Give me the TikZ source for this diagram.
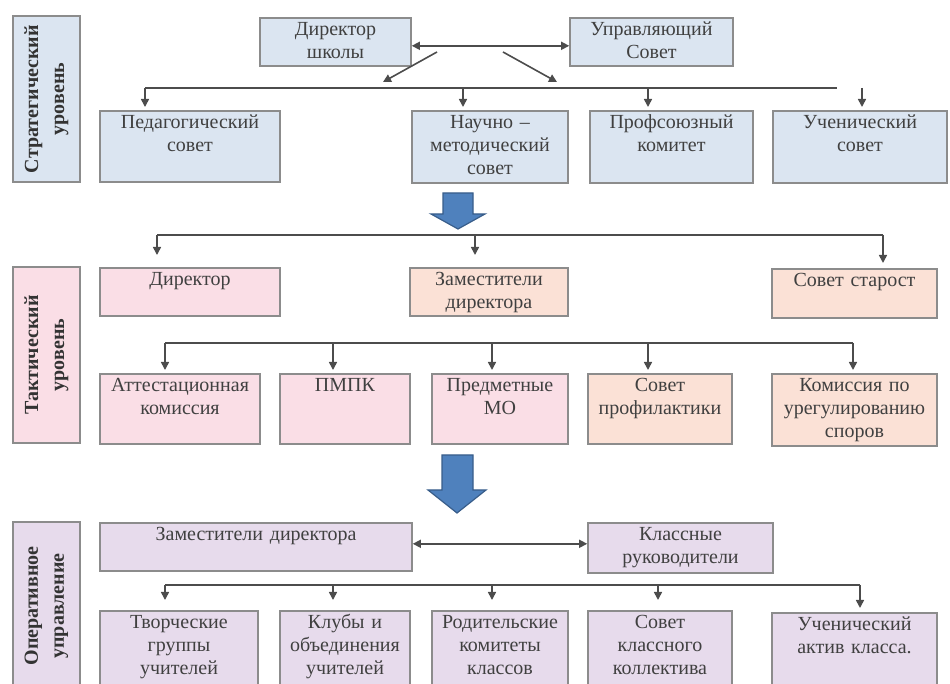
\documentclass[tikz,border=0pt]{standalone}
\usepackage{fontspec}
\setmainfont{Liberation Serif}
\usetikzlibrary{arrows.meta}
\definecolor{stratblue}{RGB}{219,229,241}
\definecolor{taktpink}{RGB}{250,222,230}
\definecolor{taktpeach}{RGB}{251,225,214}
\definecolor{operlilac}{RGB}{231,219,236}
\definecolor{arrowblue}{RGB}{79,129,189}
\definecolor{arrowedge}{RGB}{56,93,138}
\tikzset{
    box/.style 2 args={draw=black!45, line width=0.8pt, anchor=north, align=center,
        inner xsep=0pt, inner ysep=3pt, text width=#1, text height=6pt, text depth=#2,
        font=\fontsize{10}{11.5}\selectfont, text=black!75}, % блок схемы
    level/.style={draw=black!45, line width=0.8pt, rotate=90, align=center, inner sep=0pt,
        font=\fontsize{10}{13}\selectfont\bfseries, text=black!80}, % подпись уровня
    arr/.style={draw=black!70, line width=0.8pt, -{Triangle[length=4pt,width=4pt]}},
    arrtwo/.style={draw=black!70, line width=0.8pt, {Triangle[length=4pt,width=4pt]}-{Triangle[length=4pt,width=4pt]}},
    bus/.style={draw=black!70, line width=0.8pt},
    bigarrow/.style={fill=arrowblue, draw=arrowedge, line width=0.6pt}
}
\begin{document}
\begin{tikzpicture}[x=0.5pt, y=-0.5pt]
    \useasboundingbox (0,0) rectangle (950,684);

    % стратегический уровень
    \node[level, fill=stratblue, minimum width=83pt, minimum height=33.5pt] (strat) at (46.5,99) {Стратегический\\уровень};
    \node[box={75.5pt}{12pt}, fill=stratblue] (dir) at (335.5,17) {Директор\\школы};
    \node[box={81.5pt}{12pt}, fill=stratblue] (upr) at (651.5,17) {Управляющий\\Совет};
    \node[box={90pt}{23.5pt}, fill=stratblue] (ped) at (190,110) {Педагогический\\совет};
    \node[box={78pt}{24pt}, fill=stratblue] (nauch) at (490,110) {Научно –\\методический\\совет};
    \node[box={81.5pt}{24pt}, fill=stratblue] (prof) at (671.5,110) {Профсоюзный\\комитет};
    \node[box={87pt}{24pt}, fill=stratblue] (uch) at (860,110) {Ученический\\совет};

    \draw[arrtwo] ([yshift=-2pt]dir.east) -- ([yshift=-2pt]upr.west);
    \draw[arr] (437,52) -- (383,82);
    \draw[arr] (503,52) -- (557,82);
    \draw[bus] (145,88) -- (837,88);
    \foreach \x/\n in {145/ped, 463/nauch, 648/prof, 862/uch}
        \draw[arr, shorten >=1.5pt] (\x,88) -- (\x,88 |- \n.north);

    \fill[bigarrow] (443,193) -- (473,193) -- (473,214) -- (485,214) -- (458,229) -- (431,214) -- (443,214) -- cycle;

    % тактический уровень
    \node[level, fill=taktpink, minimum width=88pt, minimum height=33.5pt] (takt) at (46.5,355) {Тактический\\уровень};
    \node[box={90pt}{12pt}, fill=taktpink] (dirt) at (190,267) {Директор};
    \node[box={79pt}{12pt}, fill=taktpeach] (zam) at (489,267) {Заместители\\директора};
    \node[box={82.5pt}{12.5pt}, fill=taktpeach] (star) at (854.5,268) {Совет старост};
    \node[box={80pt}{23pt}, fill=taktpink] (att) at (180,373) {Аттестационная\\комиссия};
    \node[box={65pt}{23pt}, fill=taktpink] (pmpk) at (345,373) {ПМПК};
    \node[box={68pt}{23pt}, fill=taktpink] (pred) at (500,373) {Предметные\\МО};
    \node[box={72pt}{23pt}, fill=taktpeach] (profil) at (660,373) {Совет\\профилактики};
    \node[box={82.5pt}{24pt}, fill=taktpeach] (kom) at (854.5,373) {Комиссия по\\урегулированию\\споров};

    \draw[bus] (157,235) -- (883,235);
    \foreach \x/\n/\g in {157/dirt/6pt, 475/zam/6pt, 883/star/2.5pt}
        \draw[arr, shorten >=\g] (\x,235) -- (\x,235 |- \n.north);
    \draw[bus] (165,343) -- (853,343);
    \foreach \x/\n in {165/att, 333/pmpk, 492/pred, 648/profil, 853/kom}
        \draw[arr, shorten >=1.5pt] (\x,343) -- (\x,343 |- \n.north);

    \fill[bigarrow] (442,455) -- (473,455) -- (473,490) -- (486,490) -- (457,513) -- (428,490) -- (442,490) -- cycle;

    % оперативное управление
    \node[level, fill=operlilac, minimum width=84pt, minimum height=33.5pt] (oper) at (46.5,606) {Оперативное\\управление};
    \node[box={156pt}{12pt}, fill=operlilac] (zamo) at (256,522) {Заместители директора};
    \node[box={92.5pt}{13pt}, fill=operlilac] (kl) at (680.5,522) {Классные\\руководители};
    \node[box={79pt}{28pt}, fill=operlilac] (tv) at (179,610) {Творческие\\группы\\учителей};
    \node[box={65pt}{28pt}, fill=operlilac] (kluby) at (345,610) {Клубы и\\объединения\\учителей};
    \node[box={68pt}{28pt}, fill=operlilac] (rod) at (500,610) {Родительские\\комитеты\\классов};
    \node[box={72pt}{28pt}, fill=operlilac] (sovk) at (660,610) {Совет\\классного\\коллектива};
    \node[box={82.5pt}{27pt}, fill=operlilac] (akt) at (854.5,612) {Ученический\\актив класса.};

    \draw[arrtwo] ([yshift=1.5pt]zamo.east) -- ([yshift=1.5pt]zamo.east -| kl.west);
    \draw[bus] (165,585) -- (860,585);
    \foreach \x/\n/\g in {165/tv/5pt, 333/kluby/5pt, 492/rod/5pt, 658/sovk/5pt, 860/akt/2pt}
        \draw[arr, shorten >=\g] (\x,585) -- (\x,585 |- \n.north);
\end{tikzpicture}
\end{document}
